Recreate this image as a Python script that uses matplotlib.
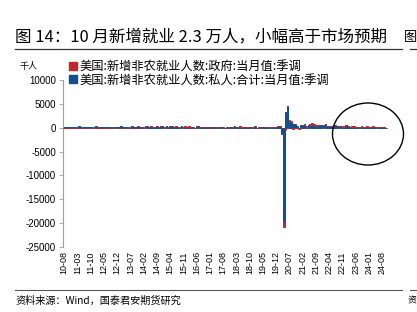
import matplotlib
matplotlib.use("Agg")
import matplotlib.pyplot as plt
import numpy as np
from matplotlib.patches import Ellipse
from matplotlib.lines import Line2D

plt.rcParams['font.family'] = ['Noto Sans CJK SC', 'DejaVu Sans']

# Monthly data 2010-08 .. 2024-10 (thousands)
start_year, start_month = 2010, 8
private = [
    120, 100, 200, 120, 100,
    60, 230, 240, 320, 120, 240, 210, 110, 200, 170, 140, 220,
    360, 240, 220, 80, 120, 60, 160, 170, 190, 190, 180, 240,
    190, 280, 150, 200, 210, 190, 170, 280, 180, 230, 260, 70,
    170, 170, 260, 310, 220, 290, 230, 190, 270, 220, 300, 270,
    200, 260, 80, 290, 330, 190, 270, 120, 140, 320, 230, 250,
    130, 240, 220, 150, 30, 270, 330, 150, 230, 130, 160, 210,
    200, 210, 130, 190, 120, 190, 170, 180, 20, 230, 210, 170,
    160, 320, 160, 190, 250, 230, 160, 230, 100, 250, 170, 220,
    290, 10, 170, 190, 100, 160, 150, 140, 150, 160, 200, 130,
    300, 300, -1400, -19800, 3200, 4500, 1400, 1200, 700, 800, 300, -150,
    480, 610, 730, 250, 500, 560, 700, 520, 400, 600, 600, 600,
    490, 850, 370, 340, 360, 280, 500, 280, 300, 260, 220, 230,
    470, 260, 120, 210, 240, 110, 140, 180, 220, 100, 150, 210,
    150, 150, 240, 140, 200, 110, 90, 80, 170, -30,
]
government = [
    -100, -150, -50, -20, -20,
    -30, -20, -20, -40, -30, -30, -40, -30, -20, -10, -20, -10,
    0, 10, 0, -10, -10, -10, 0, 0, 20, 10, 0, 0,
    -10, 10, -10, 0, -10, -10, 0, 10, 0, 0, 10, -10,
    10, 0, 10, 10, 10, 10, 10, 10, 10, 10, 10, 10,
    10, 0, 10, 0, 10, 10, 10, 20, 0, 10, 10, 20,
    0, 20, 20, 0, 10, 10, 20, 10, 10, 0, 10, 0,
    10, 0, 10, 0, 10, 20, 10, 0, 0, 0, 10, 0,
    10, 10, 0, 10, 20, 10, 0, 20, 10, 0, 20, 10,
    20, 10, 0, 10, 0, 10, 10, 20, 30, 20, 20, 10,
    20, 10, -10, -980, -580, 40, 300, 300, -200, -150, -50, -100,
    20, 40, 0, 20, 40, 150, 200, 180, 80, 40, 10, 0,
    30, 20, 20, 20, 30, 20, 40, 30, 40, 50, 50, 30,
    80, 50, 40, 70, 50, 60, 70, 60, 50, 50, 50, 50,
    50, 30, 60, 20, 40, 60, 20, 40, 30, 40,
]
labels_gov = "美国:新增非农就业人数:政府:当月值:季调"
labels_priv = "美国:新增非农就业人数:私人:合计:当月值:季调"
yticks = [10000, 5000, 0, -5000, -10000, -15000, -20000, -25000]

n = len(private)
months = []
for i in range(n):
    m = start_month - 1 + i
    months.append(f"{(start_year + m // 12) % 100:02d}-{m % 12 + 1:02d}")

x = np.arange(n)
priv = np.array(private, dtype=float)
gov = np.array(government, dtype=float)
gov_bottom = np.where(np.sign(gov) == np.sign(priv), priv, 0.0)

RED = '#C0282D'
BLUE = '#134D8B'

fig = plt.figure(figsize=(4.17, 3.12), dpi=100)
ax = fig.add_axes([63 / 417, (312 - 247) / 312, 326 / 417, 167 / 312])
ax.bar(x, priv, width=0.9, color=BLUE, edgecolor=BLUE, linewidth=0.7, zorder=2)
ax.bar(x, gov, width=0.9, bottom=gov_bottom, color=RED, edgecolor=RED,
       linewidth=0.7, zorder=3)

ax.set_xlim(-0.6, 171.6)
ax.set_ylim(-25000, 10000)
ax.set_yticks(yticks)
ax.set_yticklabels([str(v) for v in yticks], family='Liberation Sans', fontsize=7)
tick_idx = list(range(0, n, 7))
ax.set_xticks(tick_idx)
ax.set_xticklabels([months[i] for i in tick_idx], rotation=90,
                   family='Liberation Sans', fontsize=6.5)
for s in ['top', 'right', 'bottom']:
    ax.spines[s].set_visible(False)
ax.spines['left'].set_color('#A0A0A0')
ax.spines['left'].set_linewidth(0.8)
ax.tick_params(axis='y', length=3, width=0.6, color='#A0A0A0', pad=2)
ax.tick_params(axis='x', length=0, pad=3)

handles = [Line2D([], [], marker='s', linestyle='none', markersize=6, color=RED),
           Line2D([], [], marker='s', linestyle='none', markersize=6, color=BLUE)]
ax.legend(handles, [labels_gov, labels_priv], loc='upper left',
          bbox_to_anchor=(0.0, 1.15), frameon=False, fontsize=8.8,
          handletextpad=0.15, labelspacing=0.05, borderaxespad=0, handlelength=0.8)

fig.text(20 / 417, 1 - 66 / 312, "千人", fontsize=6.5, va='center', ha='left')

# Title & rules
fig.text(15 / 417, 1 - 37 / 312, "图 14：10 月新增就业 2.3 万人，小幅高于市场预期",
         fontsize=11.9, va='center', ha='left')
fig.text(417 / 417, 1 - 37 / 312, "图", fontsize=9.5, va='center', ha='right')
fig.add_artist(Line2D([15 / 417, 402 / 417], [1 - 48.5 / 312] * 2,
                      transform=fig.transFigure, color='#333333', lw=0.9))
fig.add_artist(Line2D([410 / 417, 1.0], [1 - 48.5 / 312] * 2,
                      transform=fig.transFigure, color='#333333', lw=0.9))
fig.add_artist(Line2D([15 / 417, 402 / 417], [1 - 290 / 312] * 2,
                      transform=fig.transFigure, color='#555555', lw=0.8))
fig.add_artist(Line2D([410 / 417, 1.0], [1 - 290 / 312] * 2,
                      transform=fig.transFigure, color='#555555', lw=0.8))
fig.text(15 / 417, 1 - 301 / 312, "资料来源：Wind，国泰君安期货研究",
         fontsize=7.3, va='center', ha='left')
fig.text(417 / 417, 1 - 301 / 312, "资", fontsize=6.5, va='center', ha='right')

# Highlight ellipse
fig.add_artist(Ellipse((368 / 417, 1 - 134 / 312), 71 / 417, 62 / 312,
                       transform=fig.transFigure, fill=False, edgecolor='black', lw=1.0))

fig.savefig("out.png", dpi=100)
